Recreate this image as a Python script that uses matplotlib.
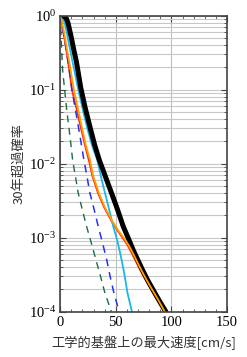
import numpy as np
import matplotlib
matplotlib.use("Agg")
import matplotlib.pyplot as plt
from matplotlib.ticker import LogLocator, MultipleLocator, NullFormatter

plt.rcParams['font.family'] = ['Liberation Serif', 'Noto Sans CJK JP']
plt.rcParams['mathtext.fontset'] = 'stix'

# 30-year exceedance probability curves (velocity cm/s, log10 prob)
black_v = [0, 2, 4, 5.5, 7, 8.5, 10, 12, 14.5, 16.5, 18.5, 22.5, 27, 31, 35.1, 40.5, 46.2,
           51.5, 56.7, 61, 65.7, 70, 74.1, 78.8, 83.7, 89, 95]
black_lp = [0, 0, -0.01, -0.04, -0.1, -0.2, -0.3, -0.45, -0.62, -0.8, -0.98, -1.25, -1.52, -1.75,
            -1.95, -2.17, -2.4, -2.62, -2.85, -3.0, -3.17, -3.31, -3.44, -3.58, -3.71, -3.85, -4.0]

cyan_v = [0, 2, 4, 5.5, 7, 9, 11, 13.5, 16.2, 20, 24.3, 28.5, 33.3, 37, 40.3, 44, 47.7,
          51.5, 55.2, 58, 60.5, 64.5]
cyan_lp = [0, -0.02, -0.1, -0.2, -0.32, -0.47, -0.62, -0.8, -1.0, -1.25, -1.52, -1.75, -1.95,
           -2.2, -2.4, -2.62, -2.85, -3.05, -3.3, -3.52, -3.75, -4.0]

orange_v = [0, 1, 2.5, 4, 6, 8, 10, 12.3, 15.8, 19.3, 23, 26.7, 29.7, 34.8, 40.5, 47, 52, 57,
            61.5, 65, 69, 73, 78, 83, 88.5, 94]
orange_lp = [0, -0.05, -0.15, -0.27, -0.45, -0.62, -0.8, -1.0, -1.25, -1.5, -1.75, -1.95, -2.17,
             -2.4, -2.6, -2.78, -2.9, -3.0, -3.1, -3.2, -3.32, -3.44, -3.58, -3.71, -3.85, -4.0]

red_v = [0, 1, 2.5, 4, 5.5, 7, 8.7, 10.5, 14.5, 18.3, 22.2, 26, 29, 34, 39.8, 46.3, 51.3, 56,
         60.5, 64, 68, 72, 77, 82, 87.5, 93.3]
red_lp = [0, -0.07, -0.2, -0.33, -0.47, -0.62, -0.8, -1.0, -1.25, -1.5, -1.75, -1.97, -2.17,
          -2.4, -2.6, -2.78, -2.9, -3.0, -3.1, -3.2, -3.32, -3.44, -3.58, -3.71, -3.85, -4.0]

blue_v = [0, 1, 2.5, 4, 5.5, 7, 8.7, 10.5, 13, 15.3, 18.3, 21.3, 24, 26.7, 30.5, 34.2, 38,
          41.8, 44.8, 48.3, 53]
blue_lp = [0, -0.07, -0.2, -0.33, -0.47, -0.62, -0.8, -1.0, -1.22, -1.41, -1.68, -1.95, -2.17,
           -2.4, -2.62, -2.85, -3.07, -3.3, -3.52, -3.75, -4.0]

green_v = [0, 0.5, 1.2, 2.1, 3.9, 6, 8.1, 9.8, 11.1, 13.6, 16.2, 19.8, 23.7, 27.9, 32.1,
           36.2, 40.2, 46]
green_lp = [0, -0.2, -0.46, -0.73, -1.0, -1.3, -1.55, -1.77, -1.95, -2.17, -2.4, -2.62, -2.85,
            -3.07, -3.3, -3.52, -3.75, -4.0]

fig = plt.figure(figsize=(2.47, 3.57), dpi=100)
ax = fig.add_axes([0.244, 0.127, 0.675, 0.829])

# red is solid and sits under the dashed blue / solid orange
ax.plot(red_v, np.power(10.0, red_lp), color='#ff2a1a', lw=1.3)
ax.plot(green_v, np.power(10.0, green_lp), color='#1e6b45', lw=1.0, dashes=(5, 4))
ax.plot(blue_v, np.power(10.0, blue_lp), color='#2233ee', lw=1.1, dashes=(5, 4))
ax.plot(cyan_v, np.power(10.0, cyan_lp), color='#18b8ee', lw=1.3)
ax.plot(black_v, np.power(10.0, black_lp), color='black', lw=3.6, solid_capstyle='round')
ax.plot(orange_v, np.power(10.0, orange_lp), color='#ffa000', lw=1.3)

ax.set_yscale('log')
ax.set_xlim(0, 150)
ax.set_ylim(1e-4, 1)
ax.xaxis.set_major_locator(MultipleLocator(50))
ax.xaxis.set_minor_locator(MultipleLocator(10))
ax.yaxis.set_major_locator(LogLocator(base=10))
ax.yaxis.set_minor_locator(LogLocator(base=10, subs=np.arange(2, 10)))
ax.yaxis.set_minor_formatter(NullFormatter())

ax.grid(True, which='both', axis='y', color='#c8c8c8', lw=0.8)
ax.grid(True, which='major', axis='x', color='#c0c0c0', lw=0.8)
ax.set_axisbelow(True)

ax.tick_params(which='both', direction='in', top=True, right=True, color='#444444')
ax.tick_params(which='major', length=4, width=0.8, labelsize=10.5, pad=3)
ax.tick_params(which='minor', length=2, width=0.6)
for s in ax.spines.values():
    s.set_color('#444444')
    s.set_linewidth(1.2)

ax.set_xlabel('工学的基盤上の最大速度[cm/s]', fontsize=9.5, labelpad=5,
              family=['Noto Sans CJK JP', 'DejaVu Sans'], color='#333333')
ax.set_ylabel('30年超過確率', fontsize=9.5, labelpad=2,
              family=['Noto Sans CJK JP', 'DejaVu Sans'], color='#333333')

fig.savefig('out.png', dpi=100)
